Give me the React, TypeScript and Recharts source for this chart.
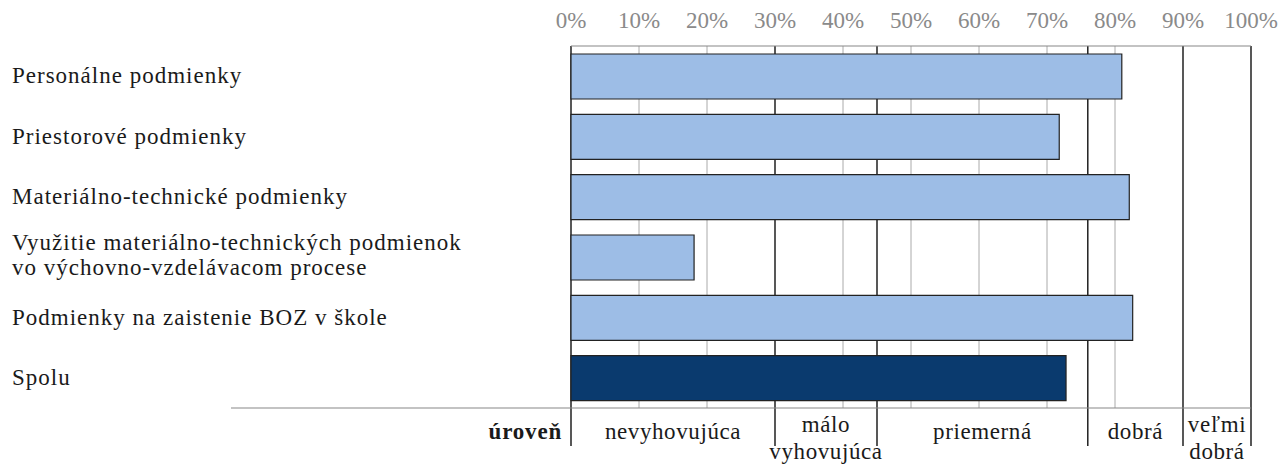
import React from 'react';
import { BarChart, Bar, XAxis, YAxis, CartesianGrid, ReferenceLine, ReferenceArea, Cell } from 'recharts';

const categories = [
  'Personálne podmienky',
  'Priestorové podmienky',
  'Materiálno-technické podmienky',
  'Využitie materiálno-technických podmienok\nvo výchovno-vzdelávacom procese',
  'Podmienky na zaistenie BOZ v škole',
  'Spolu',
];
const values = [81.0, 71.8, 82.1, 18.1, 82.6, 72.8];
const percentTicks = [0, 10, 20, 30, 40, 50, 60, 70, 80, 90, 100];
const levelBounds = [0, 30, 45, 76, 90, 100];
const levelNames = ['nevyhovujúca', 'málo\nvyhovujúca', 'priemerná', 'dobrá', 'veľmi\ndobrá'];
const levelTitle = 'úroveň';

const FONT = '"Liberation Serif", "Times New Roman", serif';
const TEXT = '#1a1a1a';

const data = categories.map((name, i) => ({ name, value: values[i] }));
// grid lines: every 10 % plus the level boundaries
const gridTicks = Array.from(new Set([...percentTicks, ...levelBounds])).sort((a, b) => a - b);

const CategoryTick = (props: any) => {
  const { y, payload } = props;
  const lines = String(payload.value).split('\n');
  const lh = 25;
  const first = -((lines.length - 1) * lh) / 2 + 7 - (lines.length > 1 ? 2 : 0);
  return (
    <text x={12} y={y} textAnchor="start" fontFamily={FONT} fontSize={23} letterSpacing={1} fill={TEXT}>
      {lines.map((l, i) => (
        <tspan key={i} x={12} dy={i === 0 ? first : lh}>
          {l}
        </tspan>
      ))}
    </text>
  );
};

const PercentTick = (props: any) => {
  const { x, y, payload } = props;
  if (!percentTicks.includes(payload.value)) return <g />;
  return (
    <text x={x} y={y - 2} textAnchor="middle" fontFamily={FONT} fontSize={23} fill="#8a8a8a">
      {payload.value}%
    </text>
  );
};

const gridLine = (p: any) => {
  const v = gridTicks[p.index];
  const strong = levelBounds.includes(v);
  return (
    <line
      key={p.key ?? p.index}
      x1={p.x1}
      y1={p.y1}
      x2={p.x2}
      y2={p.y2}
      stroke={strong ? '#111' : '#aaa'}
      strokeWidth={strong ? 1.4 : 1}
    />
  );
};

// level boundaries continue below the plot
const boundaryShape = (first: boolean) => (props: any) => {
  const x = props.x1;
  const bottom = Math.max(props.y1, props.y2);
  return (
    <g>
      <line x1={x} y1={bottom} x2={x} y2={bottom + 38} stroke="#111" strokeWidth={1.4} />
      {first && (
        <>
          <line x1={x - 340} y1={bottom} x2={x} y2={bottom} stroke="#888" strokeWidth={1.2} />
          <text x={x - 9} y={bottom + 31} textAnchor="end" fontFamily={FONT} fontSize={23} letterSpacing={0.8} fontWeight="bold" fill={TEXT}>
            {levelTitle}
          </text>
        </>
      )}
    </g>
  );
};

const levelLabel = (text: string) => (props: any) => {
  const vb = props.viewBox;
  const cx = vb.x + vb.width / 2;
  const base = vb.y + vb.height;
  const lines = text.split('\n');
  const ys = lines.length === 1 ? [31] : [24, 51];
  return (
    <g>
      {lines.map((l, i) => (
        <text key={i} x={cx} y={base + ys[i]} textAnchor="middle" fontFamily={FONT} fontSize={23} letterSpacing={0.6} fill={TEXT}>
          {l}
        </text>
      ))}
    </g>
  );
};

export default function App() {
  return (
    <div style={{ position: 'absolute', left: 0, top: 0, width: 1280, height: 464, background: '#fff' }}>
      <BarChart
        width={1280}
        height={464}
        data={data}
        layout="vertical"
        margin={{ top: 0, right: 29, left: 0, bottom: 55 }}
      >
        <CartesianGrid horizontal={false} vertical={gridLine} />
        <XAxis
          type="number"
          domain={[0, 100]}
          ticks={gridTicks}
          orientation="top"
          height={46}
          tickLine={false}
          axisLine={{ stroke: '#888', strokeWidth: 1.2 }}
          tick={<PercentTick />}
          tickMargin={10}
          interval={0}
        />
        <XAxis
          xAxisId="lvl"
          type="number"
          domain={[0, 100]}
          orientation="bottom"
          height={1}
          tick={false}
          tickLine={false}
          axisLine={{ stroke: '#888', strokeWidth: 1.2 }}
        />
        <YAxis
          type="category"
          dataKey="name"
          width={571}
          axisLine={false}
          tickLine={false}
          tick={<CategoryTick />}
          interval={0}
        />
        {levelBounds.map((b, i) => (
          <ReferenceLine key={b} x={b} ifOverflow="visible" shape={boundaryShape(i === 0)} />
        ))}
        {levelNames.map((n, i) => (
          <ReferenceArea
            key={n}
            x1={levelBounds[i]}
            x2={levelBounds[i + 1]}
            fill="none"
            fillOpacity={0}
            strokeOpacity={0}
            ifOverflow="visible"
            label={levelLabel(n)}
          />
        ))}
        <Bar dataKey="value" barSize={45} stroke="#222" strokeWidth={1.2} isAnimationActive={false}>
          {data.map((d, i) => (
            <Cell key={i} fill={d.name === 'Spolu' ? '#0a3a6e' : '#9dbde6'} />
          ))}
        </Bar>
      </BarChart>
    </div>
  );
}
